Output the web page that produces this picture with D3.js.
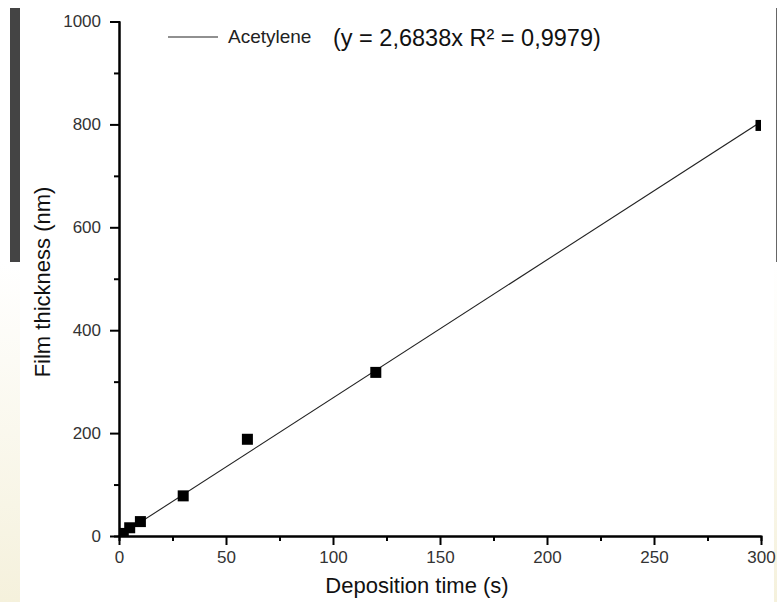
<!DOCTYPE html>
<html>
<head>
<meta charset="utf-8" />
<title>Film thickness vs deposition time</title>
<script src="https://d3js.org/d3.v7.min.js"></script>
<style>
html, body { margin: 0; padding: 0; background: #fff; }
svg { display: block; font-family: "Liberation Sans", Arial, sans-serif; }
.tick text { fill: #333; font-size: 17px; font-family: "Liberation Sans", Arial, sans-serif; }
</style>
</head>
<body>
<script>
// measured points (s, nm)
let times = [2, 5, 10, 30, 60, 120, 300];
let thickness = [5, 16, 28, 78, 188, 318, 798];
let slope = 2.6838;
let xTicks = [0, 50, 100, 150, 200, 250, 300];
let yTicks = [0, 200, 400, 600, 800, 1000];
let seriesName = 'Acetylene';
let fitLabel = '(y = 2,6838x R\u00B2 = 0,9979)';

let W = 777, H = 602;
let svg = d3.select('body').append('svg').attr('width', W).attr('height', H);

// slide background bits
let defs = svg.append('defs');
let grad = defs.append('linearGradient').attr('id', 'beige').attr('x1', 0).attr('y1', 0).attr('x2', 0).attr('y2', 1);
grad.append('stop').attr('offset', '0%').attr('stop-color', '#ffffff');
grad.append('stop').attr('offset', '100%').attr('stop-color', '#f5f1dc');
svg.append('rect').attr('x', 0).attr('y', 262).attr('width', 20).attr('height', H - 262).attr('fill', 'url(#beige)');
svg.append('rect').attr('x', 774).attr('y', 262).attr('width', 3).attr('height', H - 262).attr('fill', 'url(#beige)');
svg.append('rect').attr('x', 10).attr('y', 8).attr('width', 10).attr('height', 254).attr('fill', '#444');
svg.append('rect').attr('x', 776).attr('y', 8).attr('width', 1).attr('height', 254).attr('fill', '#666');

let pLeft = 119, pRight = 761, pTop = 21.5, pBottom = 536;
let x = d3.scaleLinear().domain([0, 300]).range([pLeft, pRight]);
let y = d3.scaleLinear().domain([0, 1000]).range([pBottom, pTop]);

defs.append('clipPath').attr('id', 'plot').append('rect')
    .attr('x', pLeft).attr('y', pTop).attr('width', pRight - pLeft).attr('height', pBottom - pTop);

let plot = svg.append('g').attr('clip-path', 'url(#plot)');

plot.append('line')
    .attr('x1', x(0)).attr('y1', y(0))
    .attr('x2', x(300)).attr('y2', y(slope * 300))
    .attr('stroke', '#222').attr('stroke-width', 1.1);

let ms = 11;
plot.selectAll('rect.pt').data(times).enter().append('rect')
    .attr('class', 'pt')
    .attr('x', d => x(d) - ms / 2)
    .attr('y', (d, i) => y(thickness[i]) - ms / 2)
    .attr('width', ms).attr('height', ms)
    .attr('fill', '#000');

// axes: major + minor ticks outward
function minor(vals) {
    let out = [];
    for (let i = 0; i < vals.length - 1; i++) out.push((vals[i] + vals[i + 1]) / 2);
    return out;
}

let xMinor = svg.append('g').attr('transform', 'translate(0,' + pBottom + ')')
    .call(d3.axisBottom(x).tickValues(minor(xTicks)).tickSize(5).tickFormat(''));
let xAxis = svg.append('g').attr('transform', 'translate(0,' + pBottom + ')')
    .call(d3.axisBottom(x).tickValues(xTicks).tickSize(9).tickPadding(6).tickSizeOuter(0).tickFormat(d3.format('d')));
let yMinor = svg.append('g').attr('transform', 'translate(' + pLeft + ',0)')
    .call(d3.axisLeft(y).tickValues(minor(yTicks)).tickSize(5).tickFormat(''));
let yAxis = svg.append('g').attr('transform', 'translate(' + pLeft + ',0)')
    .call(d3.axisLeft(y).tickValues(yTicks).tickSize(9).tickPadding(9).tickSizeOuter(0).tickFormat(d3.format('d')));

[xMinor, xAxis, yMinor, yAxis].forEach(g => {
    g.selectAll('.domain').attr('stroke', '#000').attr('stroke-width', 2);
    g.selectAll('.tick line').attr('stroke', '#000').attr('stroke-width', 2);
});
xAxis.selectAll('.tick text').attr('dy', '0.71em');

svg.append('text').attr('x', 417).attr('y', 593).attr('text-anchor', 'middle')
    .attr('font-size', 22).attr('fill', '#111').text('Deposition time (s)');
svg.append('text').attr('transform', 'translate(50,282) rotate(-90)').attr('text-anchor', 'middle')
    .attr('font-size', 22).attr('fill', '#111').text('Film thickness (nm)');

// legend
svg.append('line').attr('x1', 168).attr('x2', 218).attr('y1', 37).attr('y2', 37)
    .attr('stroke', '#222').attr('stroke-width', 1.1);
svg.append('text').attr('x', 228).attr('y', 43).attr('font-size', 19).attr('fill', '#222').text(seriesName);
svg.append('text').attr('x', 333).attr('y', 46).attr('font-size', 23.5).attr('fill', '#111').text(fitLabel);
</script>
</body>
</html>
